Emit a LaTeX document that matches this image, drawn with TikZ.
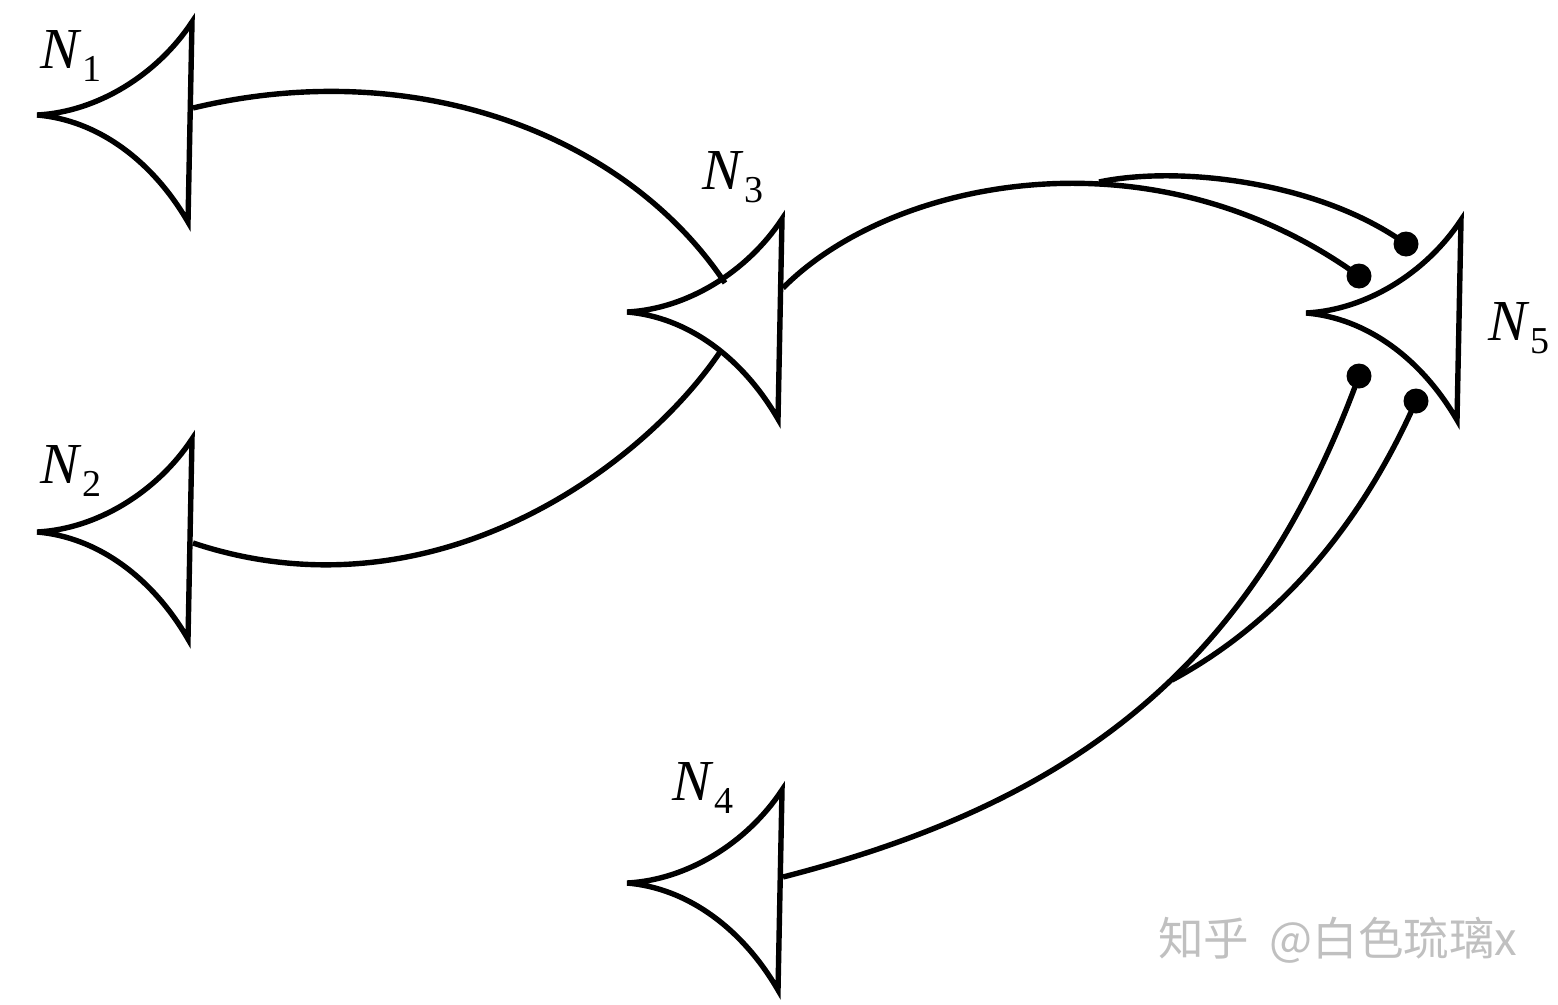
\documentclass[tikz,border=0pt]{standalone}
\usepackage{fontspec}
\setmainfont{Liberation Serif}
\newfontfamily\cjk{Noto Sans CJK SC}
\definecolor{wm}{RGB}{192,192,192}
\newcommand{\nlab}[1]{\textit{N}\kern1pt\raisebox{-13pt}{\fontsize{38}{38}\selectfont #1}}
\begin{document}
\begin{tikzpicture}[x=1pt,y=-1pt,
  nline/.style={line width=5.4pt},
  wire/.style={line width=5.4pt},
  lab/.style={inner sep=0pt, anchor=base west, font=\fontsize{58}{60}\selectfont},
  neuron/.pic={
    \coordinate (-tip) at (0,0);
    \coordinate (-top) at (155,-93);
    \coordinate (-bot) at (151,107);
    \draw[nline] (-tip) .. controls (60,-3) and (120,-40) .. (-top) -- (-bot)
      .. controls (115,45) and (60,5) .. (-tip);
  }]
\path[use as bounding box] (0,0) rectangle (1558,1004);

% neurons
\pic (n1) at (37,115) {neuron};
\pic (n2) at (37,532) {neuron};
\pic (n3) at (627,312) {neuron};
\pic (n4) at (627,883) {neuron};
\pic (n5) at (1306,313) {neuron};

% labels
\node[lab] (l1) at (40,68) {\nlab{1}};
\node[lab] (l2) at (40,483) {\nlab{2}};
\node[lab] (l3) at (702,189) {\nlab{3}};
\node[lab] (l4) at (672,800) {\nlab{4}};
\node[lab] (l5) at (1488,340) {\nlab{5}};

% connection points
\coordinate (o1) at (193,108);
\coordinate (o2) at (193,543);
\coordinate (o3) at (783,288);
\coordinate (o4) at (783,877);
\coordinate (i31) at (725,283);
\coordinate (i32) at (720,352);
\coordinate (b1) at (1099,182);
\coordinate (b2) at (1172,680);
\coordinate (s1) at (1359,276);
\coordinate (s2) at (1406,244);
\coordinate (s3) at (1359,376);
\coordinate (s4) at (1416,401);

% connectors
\draw[wire] (o1) .. controls (413,55) and (625,133) .. (i31);
\draw[wire] (o2) .. controls (430,622) and (640,470) .. (i32);
\draw[wire] (o3) .. controls (890,180) and (1150,125) .. (s1);
\draw[wire] (b1) .. controls (1180,165) and (1320,182) .. (s2);
\draw[wire] (o4) .. controls (1083,800) and (1255,660) .. (s3);
\draw[wire] (b2) .. controls (1250,638) and (1347,557) .. (s4);

% synapses
\foreach \s in {s1,s2,s3,s4} \fill (\s) circle (12.5pt);

% watermark
\node[inner sep=0pt, anchor=west, text=wm, font=\cjk\fontsize{45.5}{47}\selectfont] (wmk) at (1158,940) {知乎\ \ @白色琉璃x};
\end{tikzpicture}
\end{document}
